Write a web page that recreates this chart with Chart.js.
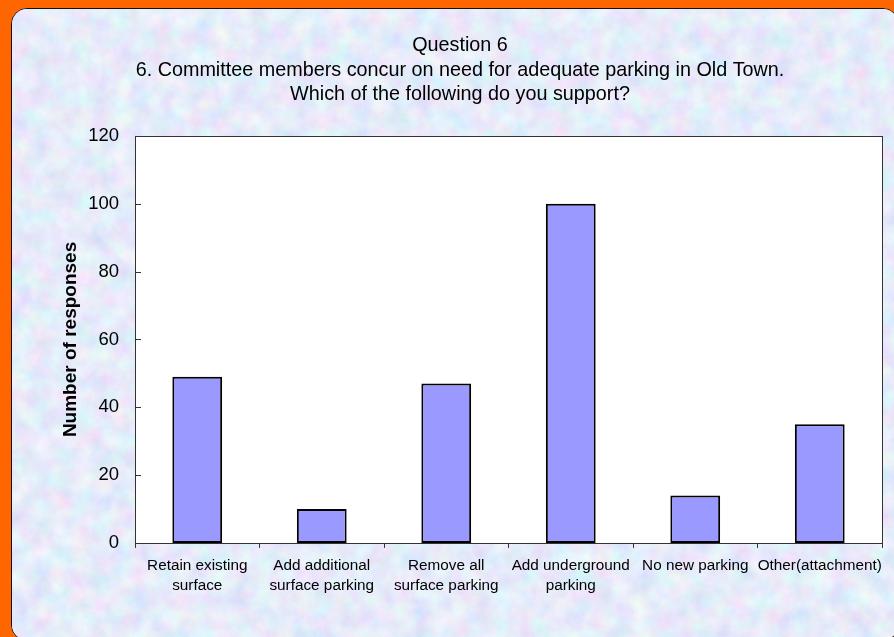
<!DOCTYPE html>
<html>
<head>
<meta charset="utf-8">
<script src="https://cdn.jsdelivr.net/npm/chart.js@4.4.0/dist/chart.umd.min.js"></script>
<style>
    html, body { margin: 0; padding: 0; width: 894px; height: 637px; overflow: hidden; background: #ff6600; }
    #panel {
        position: absolute; left: 11px; top: 8px; width: 886px; height: 631px;
        border: 1.5px solid #111; border-radius: 16px; overflow: hidden; background: #c8d6f4;
    }
    #panel svg { position: absolute; left: 0; top: 0; }
    #wrap { position: absolute; left: 11px; top: 8px; width: 898px; height: 629px; }
</style>
</head>
<body>
<div id="panel">
    <svg width="900" height="640">
        <filter id="mottle">
            <feTurbulence type="fractalNoise" baseFrequency="0.05" numOctaves="4" seed="7"/>
            <feColorMatrix type="matrix" values="0.4 0 0 0 0.59  0 0.35 0 0 0.66  0 0 0.15 0 0.875  0 0 0 0 1"/>
        </filter>
        <rect width="900" height="640" filter="url(#mottle)"/>
    </svg>
</div>
<div id="wrap"><canvas id="myChart" width="898" height="629"></canvas></div>
<script>
const categories = [
    ["Retain existing", "surface"],
    ["Add additional", "surface parking"],
    ["Remove all", "surface parking"],
    ["Add underground", "parking"],
    "No new parking",
    "Other(attachment)"
];
const responses = [49, 10, 47, 100, 14, 35];
const titleLines = [
    "Question 6",
    "6. Committee members concur on need for adequate parking in Old Town.",
    "Which of the following do you support?"
];
const yTicks = [0, 20, 40, 60, 80, 100, 120];

// white plot area, dark frame and the short inward ticks on the value axis
const plotFrame = {
    id: "plotFrame",
    beforeDatasetsDraw(chart) {
        const {ctx, chartArea: a} = chart;
        ctx.save();
        ctx.fillStyle = "#ffffff";
        ctx.fillRect(a.left, a.top, a.right - a.left, a.bottom - a.top);
        ctx.restore();
    },
    afterDraw(chart) {
        const {ctx, chartArea: a} = chart;
        const y = chart.scales.y;
        ctx.save();
        ctx.strokeStyle = "#333";
        ctx.lineWidth = 1;
        ctx.strokeRect(Math.round(a.left) + 0.5, Math.round(a.top) + 0.5,
            Math.round(a.right - a.left), Math.round(a.bottom - a.top));
        ctx.beginPath();
        yTicks.forEach(v => {
            const py = Math.round(y.getPixelForValue(v)) + 0.5;
            ctx.moveTo(a.left, py);
            ctx.lineTo(a.left + 6, py);
        });
        ctx.stroke();
        ctx.restore();
    }
};

Chart.defaults.font.family = "'Liberation Sans', Arial, sans-serif";
Chart.defaults.color = "#000";

const ctx = document.getElementById("myChart").getContext("2d");
const myChart = new Chart(ctx, {
    type: "bar",
    data: {
        labels: categories,
        datasets: [{
            data: responses,
            backgroundColor: "#9999ff",
            borderColor: "#000",
            borderWidth: 2,
            borderSkipped: false,
            barPercentage: 0.4,
            categoryPercentage: 1.0
        }]
    },
    options: {
        responsive: false,
        animation: false,
        layout: {
            padding: {left: 27, right: 27, top: 0, bottom: 33}
        },
        scales: {
            x: {
                grid: {
                    display: true,
                    drawOnChartArea: false,
                    drawTicks: true,
                    tickLength: 5,
                    color: "#333",
                    offset: true
                },
                border: {display: false},
                ticks: {
                    padding: 8,
                    maxRotation: 0,
                    autoSkip: false,
                    font: {size: 15.3, lineHeight: 1.31}
                }
            },
            y: {
                min: 0,
                max: 120,
                afterFit: (scale) => { scale.width = 97; },   // keeps plot left edge where the original has it
                grid: {display: false, drawTicks: false},
                border: {display: false},
                ticks: {
                    stepSize: 20,
                    padding: 16,
                    font: {size: 18.5}
                },
                title: {
                    display: true,
                    text: "Number of responses",
                    font: {size: 19, weight: "bold", lineHeight: 1.2},
                    padding: {top: 21, bottom: 0}
                }
            }
        },
        plugins: {
            legend: {display: false},
            tooltip: {enabled: false},
            title: {
                display: true,
                text: titleLines,
                color: "#000",
                font: {size: 19.8, weight: "normal", lineHeight: 1.237},
                padding: {top: 25.75, bottom: 28.75}
            }
        }
    },
    plugins: [plotFrame]
});
</script>
</body>
</html>
